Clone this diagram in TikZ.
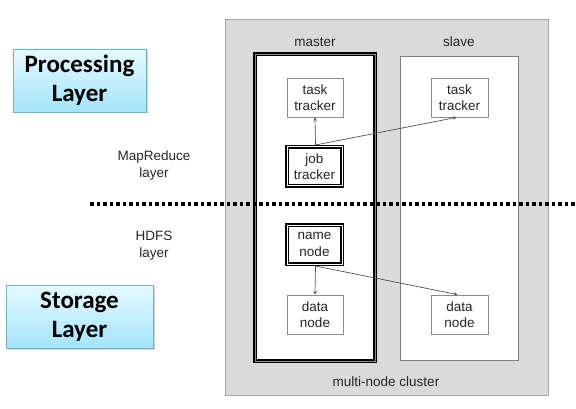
\documentclass[tikz,border=0pt]{standalone}
\usepackage{fontspec}
\setmainfont{Liberation Sans}
\newfontfamily\layerfont{Carlito}
\usetikzlibrary{arrows.meta,shadows}
\definecolor{clustergray}{HTML}{DADADA}
\definecolor{clusteredge}{HTML}{A6A6A6}
\definecolor{layertop}{HTML}{E6FAFF}
\definecolor{layerbot}{HTML}{A2E4F9}
\definecolor{layeredge}{HTML}{6FB2C6}
\definecolor{linkgray}{HTML}{505050}
\tikzset{
  lbl/.style={font=\fontsize{13.5}{16.5}\selectfont, text=black!85, align=center, inner sep=0pt},
  daemon/.style={lbl, draw=black!45, line width=0.8pt, fill=white},
  keydaemon/.style={lbl, draw=black, line width=1.2pt, double=white, double distance=1pt, fill=white},
  layerbox/.style={draw=layeredge, line width=0.9pt, top color=layertop, bottom color=layerbot,
    font=\layerfont\bfseries\fontsize{25}{29}\selectfont, align=center, inner sep=0pt,
    drop shadow={shadow xshift=1.5pt, shadow yshift=-1.5pt, opacity=0.35, fill=black!50}},
  link/.style={draw=linkgray, line width=0.7pt, -{Stealth[length=3.5pt, width=3.5pt]}}
}
\begin{document}
\begin{tikzpicture}[x=1pt, y=-1pt]
\useasboundingbox (0,0) rectangle (576,409);
\fill[white] (0,0) rectangle (576,409);

% cluster and machines
\draw[fill=clustergray, draw=clusteredge, line width=1pt] (225,20) rectangle (548,395);
\draw[fill=white, draw=black!50, line width=0.7pt] (400,56) rectangle (518,360);
\draw[fill=white, draw=black, line width=1.3pt, double=black!45, double distance=0.8pt] (255,54) rectangle (375,361);

\node[lbl] (master) at (315,42) {master};
\node[lbl] (slave) at (459,42) {slave};
\node[lbl] (cluster) at (386,382) {multi-node cluster};

% daemons
\node[daemon, minimum width=56pt, minimum height=39pt] (tt1) at (315,97.5) {task\\tracker};
\node[daemon, minimum width=57pt, minimum height=39pt] (tt2) at (459.5,97.5) {task\\tracker};
\node[keydaemon, minimum width=55pt, minimum height=39pt] (jt) at (314.5,166.5) {job\\tracker};
\node[keydaemon, minimum width=55pt, minimum height=39pt] (nn) at (314.5,244.5) {name\\node};
\node[daemon, minimum width=56pt, minimum height=39pt] (dn1) at (315,314.5) {data\\node};
\node[daemon, minimum width=57pt, minimum height=39pt] (dn2) at (459.5,314.5) {data\\node};

\coordinate (jtTop) at (315.5,145);
\coordinate (nnBot) at (315.5,266);
\draw[link] (jtTop) -- (tt1.south);
\draw[link] (jtTop) -- ([xshift=-3pt]tt2.south);
\draw[link] (nnBot) -- (dn1.north);
\draw[link] (nnBot) -- ([xshift=-2pt]dn2.north);

% layer separator
\coordinate (sepL) at (90,204);
\coordinate (sepR) at (576,204);
\draw[line width=4pt, dash pattern=on 3.6pt off 2.9pt] (sepL) -- (sepR);

\node[lbl] (mrlayer) at (154,165.5) {MapReduce\\layer};
\node[lbl] (hdfslayer) at (154,245.5) {HDFS\\layer};

% layer badges
\node[layerbox, minimum width=133pt, minimum height=63pt] (proc) at (79.5,80.5) {Processing\\Layer};
\node[layerbox, minimum width=147pt, minimum height=63pt] (stor) at (79.5,316.5) {Storage\\Layer};
\end{tikzpicture}
\end{document}
